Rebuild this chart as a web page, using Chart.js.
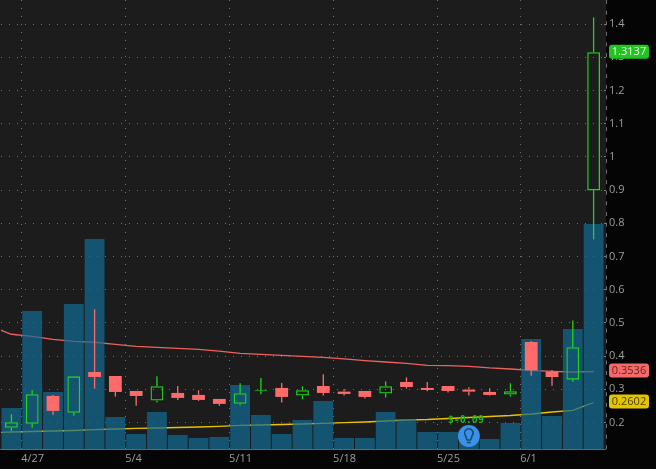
<!DOCTYPE html>
<html>
<head>
<meta charset="utf-8">
<style>
html, body { margin: 0; padding: 0; background: #050505; }
canvas { display: block; }
</style>
<script src="https://cdn.jsdelivr.net/npm/chart.js@4"></script>
</head>
<body>
<canvas id="chart" width="656" height="469"></canvas>
<script>
// first date is only there so the averages run in from the left edge
const dates = ['4/23', '4/24', '4/27', '4/28', '4/29', '4/30', '5/1', '5/4', '5/5', '5/6', '5/7', '5/8',
    '5/11', '5/12', '5/13', '5/14', '5/15', '5/18', '5/19', '5/20', '5/21', '5/22',
    '5/25', '5/27', '5/28', '5/29', '6/1', '6/2', '6/3', '6/4'];
const weekLabels = ['4/27', '5/4', '5/11', '5/18', '5/25', '6/1'];

const opens = [null, 0.184, 0.196, 0.28, 0.2295, 0.352, 0.34, 0.295, 0.266, 0.289, 0.283, 0.271,
    0.2566, 0.294, 0.304, 0.281, 0.31, 0.293, 0.295, 0.287, 0.322, 0.304,
    0.31, 0.299, 0.292, 0.284, 0.4425, 0.353, 0.329, 0.899];
const highs = [null, 0.225, 0.297, 0.283, 0.339, 0.541, 0.34, 0.295, 0.339, 0.31, 0.297, 0.271,
    0.318, 0.334, 0.319, 0.309, 0.345, 0.30, 0.295, 0.324, 0.336, 0.322,
    0.31, 0.306, 0.303, 0.318, 0.4455, 0.358, 0.507, 1.42];
const lows = [null, 0.175, 0.184, 0.2235, 0.2205, 0.302, 0.278, 0.2506, 0.26, 0.268, 0.265, 0.2506,
    0.252, 0.285, 0.26, 0.27, 0.281, 0.281, 0.272, 0.275, 0.302, 0.294,
    0.29, 0.281, 0.281, 0.278, 0.341, 0.311, 0.323, 0.7515];
const closes = [null, 0.2006, 0.285, 0.235, 0.339, 0.337, 0.292, 0.28, 0.309, 0.274, 0.268, 0.256,
    0.288, 0.2955, 0.277, 0.297, 0.289, 0.286, 0.277, 0.309, 0.307, 0.298,
    0.295, 0.293, 0.283, 0.294, 0.357, 0.337, 0.4265, 1.315];
const volumes = [null, 410, 1380, 570, 1450, 2100, 320, 150, 370, 140, 110, 120,
    640, 340, 150, 290, 480, 110, 110, 370, 300, 170,
    170, 100, 100, 260, 1100, 330, 1200, 2250];
const slowAvg = [0.4898, 0.4657, 0.4596, 0.4506, 0.4446, 0.4416, 0.4355, 0.4295, 0.4265, 0.4235, 0.4205, 0.4148,
    0.4084, 0.4054, 0.4024, 0.3994, 0.3964, 0.3913, 0.3861, 0.3822, 0.3783, 0.3723,
    0.3711, 0.3693, 0.3642, 0.3611, 0.3572, 0.3542, 0.3521, 0.3536];
const volAvg = [0.169, 0.1714, 0.1729, 0.1744, 0.1759, 0.1783, 0.1804, 0.1825, 0.1834, 0.1849, 0.1864, 0.1886,
    0.1916, 0.1925, 0.194, 0.1955, 0.1976, 0.1994, 0.2015, 0.2045, 0.2075, 0.209,
    0.212, 0.215, 0.218, 0.2211, 0.2256, 0.2316, 0.2367, 0.2602];

const badges = [
    { text: '1.3137', value: 1.3137, fill: '#22c41f', color: '#e8ffe8' },
    { text: '0.3536', value: 0.3536, fill: '#f26a6a', color: '#6e1d1d' },
    { text: '0.2602', value: 0.2602, fill: '#e3c400', color: '#4d4200' }
];
const earningsDate = '5/27';
const earningsText = '$-0.09';

const GREEN = '#22d41c';
const RED = '#ff6b6b';
const fontName = '"Open Sans", sans-serif';
const axisGap = 2; // dark plot background runs a little past the last slot

const isUp = (i) => closes[i] >= opens[i];
const candleColor = (c) => isUp(c.dataIndex) ? GREEN : RED;
const upperWick = highs.map((h, i) => h === null ? null : [Math.max(opens[i], closes[i]), h]);
const lowerWick = lows.map((l, i) => l === null ? null : [l, Math.min(opens[i], closes[i])]);
const bodies = opens.map((o, i) => o === null ? null : [o, closes[i]]);

function roundRect(ctx, x, y, w, h, r) {
    ctx.beginPath();
    ctx.roundRect(x, y, w, h, r);
    ctx.fill();
}

const background = {
    id: 'background',
    beforeDraw(chart) {
        const { ctx, chartArea: a } = chart;
        ctx.save();
        ctx.fillStyle = '#050505';
        ctx.fillRect(0, 0, chart.width, chart.height);
        ctx.fillStyle = '#1c1c1c';
        ctx.fillRect(0, a.top, a.right + axisGap, a.bottom - a.top);
        ctx.restore();
    }
};

const extras = {
    id: 'extras',
    afterDraw(chart) {
        const { ctx, chartArea: a, scales } = chart;
        ctx.save();

        // dashed price axis
        ctx.strokeStyle = '#6e6e6e';
        ctx.lineWidth = 1;
        ctx.setLineDash([4, 6.6]);
        ctx.beginPath();
        ctx.moveTo(a.right + axisGap + 0.5, a.top);
        ctx.lineTo(a.right + axisGap + 0.5, a.bottom);
        ctx.stroke();
        ctx.setLineDash([]);

        // time axis line runs on under the gap
        ctx.strokeStyle = '#666';
        ctx.beginPath();
        ctx.moveTo(0, a.bottom + 0.5);
        ctx.lineTo(a.right + axisGap, a.bottom + 0.5);
        ctx.stroke();

        // earnings marker
        const ex = scales.x.getPixelForValue(dates.indexOf(earningsDate));
        const ey = 436;
        ctx.fillStyle = '#1fb31c';
        ctx.font = 'bold 10px "DejaVu Sans Mono", monospace';
        ctx.textAlign = 'center';
        ctx.textBaseline = 'middle';
        ctx.fillText(earningsText, ex - 3, 420);
        ctx.fillStyle = '#3b90ea';
        ctx.beginPath();
        ctx.arc(ex, ey, 11, 0, Math.PI * 2);
        ctx.fill();
        ctx.strokeStyle = '#14506e';
        ctx.lineWidth = 1.6;
        ctx.beginPath();
        ctx.arc(ex, ey - 3, 4.2, Math.PI * 0.8, Math.PI * 0.2);
        ctx.lineTo(ex + 1.8, ey + 4);
        ctx.lineTo(ex - 1.8, ey + 4);
        ctx.closePath();
        ctx.stroke();
        ctx.beginPath();
        ctx.moveTo(ex - 2, ey + 6.5);
        ctx.lineTo(ex + 2, ey + 6.5);
        ctx.stroke();

        // last value flags
        ctx.font = '11px ' + fontName;
        ctx.textAlign = 'center';
        badges.forEach((b) => {
            const y = scales.y.getPixelForValue(b.value) - 1;
            ctx.fillStyle = b.fill;
            roundRect(ctx, 609, y - 7, 40, 14, 3);
            ctx.fillStyle = b.color;
            ctx.fillText(b.text, 629, y + 0.5);
        });
        ctx.restore();
    }
};

new Chart(document.getElementById('chart'), {
    data: {
        labels: dates,
        datasets: [
            { type: 'line', label: 'avg', data: slowAvg, borderColor: '#ee625e', borderWidth: 1.3, pointRadius: 0, order: 6 },
            { type: 'line', label: 'vol avg', data: volAvg, borderColor: '#e6c200', borderWidth: 1.3, pointRadius: 0, order: 5 },
            { type: 'bar', label: 'volume', data: volumes, yAxisID: 'yVol', grouped: false, barThickness: 19.8, inflateAmount: 0, backgroundColor: 'rgba(17, 108, 148, 0.7)', order: 4 },
            { type: 'bar', label: 'upper', data: upperWick, grouped: false, barThickness: 1.3, inflateAmount: 0, backgroundColor: candleColor, order: 3 },
            { type: 'bar', label: 'lower', data: lowerWick, grouped: false, barThickness: 1.3, inflateAmount: 0, backgroundColor: candleColor, order: 3 },
            {
                type: 'bar', label: 'body', data: bodies, grouped: false, barThickness: 12.8, minBarLength: 1, borderSkipped: false, inflateAmount: 0,
                borderWidth: (c) => isUp(c.dataIndex) ? 1.3 : 0,
                borderColor: candleColor,
                backgroundColor: (c) => isUp(c.dataIndex) ? 'rgba(0,0,0,0)' : RED,
                order: 2
            }
        ]
    },
    options: {
        responsive: false,
        animation: false,
        devicePixelRatio: 1,
        layout: { padding: { left: 1 } },
        plugins: { legend: { display: false }, tooltip: { enabled: false } },
        scales: {
            x: {
                type: 'category',
                min: '4/24',
                offset: true,
                afterFit(scale) {
                    scale.height = 20;
                    scale.paddingLeft = 0;
                    scale.paddingRight = 0;
                },
                border: { display: false, dash: [1, 7] },
                grid: {
                    offset: true,
                    drawTicks: false,
                    color: (c) => weekLabels.includes(dates[c.index + 1]) ? '#707070' : 'rgba(0,0,0,0)'
                },
                ticks: {
                    autoSkip: false,
                    maxRotation: 0,
                    align: 'start',
                    labelOffset: -11,
                    padding: 3,
                    color: '#9c9c9c',
                    font: { family: fontName, size: 11 },
                    callback(value) {
                        const d = this.getLabelForValue(value);
                        return weekLabels.includes(d) ? d : '';
                    }
                }
            },
            y: {
                position: 'right',
                min: 0.1202,
                max: 1.4723,
                afterFit(scale) {
                    scale.width = 52;
                    scale.paddingTop = 0;
                    scale.paddingBottom = 0;
                },
                border: { display: false, dash: [1, 7] },
                grid: {
                    tickLength: 2,
                    tickColor: '#7a7a7a',
                    color: '#707070'
                },
                ticks: {
                    stepSize: 0.1,
                    includeBounds: false,
                    autoSkip: false,
                    padding: 3,
                    color: '#9c9c9c',
                    font: { family: fontName, size: 11 },
                    callback(v) {
                        return String(Math.round(v * 10) / 10);
                    }
                }
            },
            yVol: { display: false, min: 0, max: 4490 }
        }
    },
    plugins: [background, extras]
});
</script>
</body>
</html>
